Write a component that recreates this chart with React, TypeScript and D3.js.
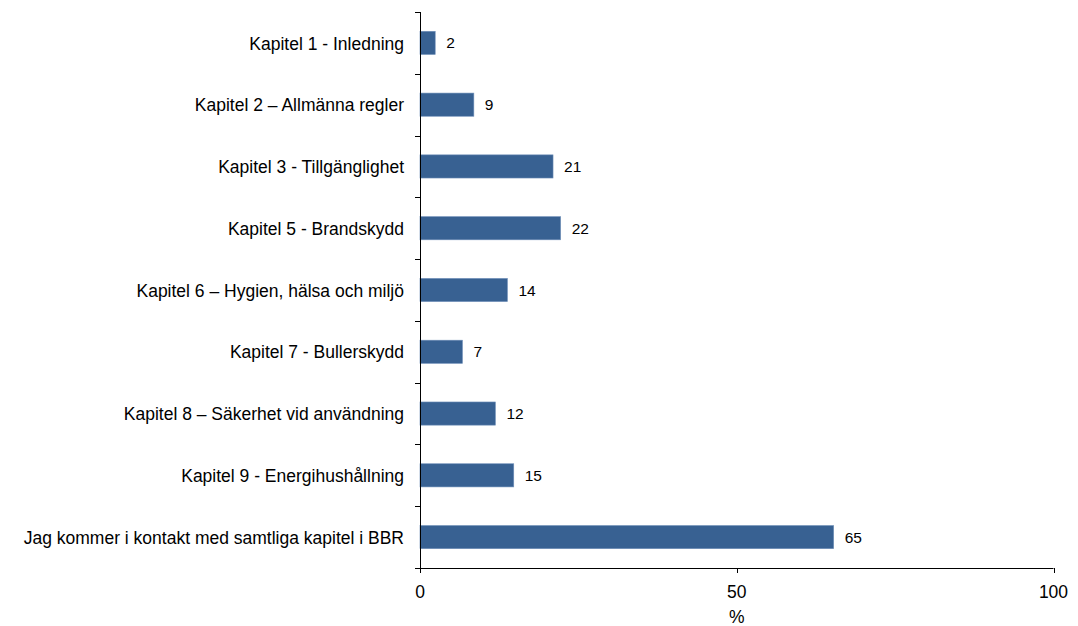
import React from "react";
import * as d3 from "d3";

const categories = [
  "Kapitel 1 - Inledning",
  "Kapitel 2 – Allmänna regler",
  "Kapitel 3 - Tillgänglighet",
  "Kapitel 5 - Brandskydd",
  "Kapitel 6 – Hygien, hälsa och miljö",
  "Kapitel 7 - Bullerskydd",
  "Kapitel 8 – Säkerhet vid användning",
  "Kapitel 9 - Energihushållning",
  "Jag kommer i kontakt med samtliga kapitel i BBR",
];
const values = [2.4, 8.5, 21.0, 22.2, 13.8, 6.7, 11.9, 14.8, 65.3];
const valueLabels = ["2", "9", "21", "22", "14", "7", "12", "15", "65"];
const xTicks = [0, 50, 100];
const xTitle = "%";

const W = 1078;
const H = 626;
const FONT = "'Liberation Sans', Arial, sans-serif";

export default function App() {
  const x = d3.scaleLinear().domain([0, 100]).range([420, 1053.5]);
  const y = d3
    .scaleBand<string>()
    .domain(categories)
    .range([12, 568])
    .paddingInner(0.625)
    .paddingOuter(0.3125);
  const step = y.step();
  const top = 12;
  const bottom = 568;
  const boundaries = d3.range(categories.length + 1).map((i) => top + i * step);

  return (
    <svg
      width={W}
      height={H}
      style={{ position: "absolute", left: 0, top: 0, background: "#fff" }}
    >
      {categories.map((c, i) => (
        <rect
          key={c}
          x={x(0)}
          y={y(c)!}
          width={x(values[i]) - x(0)}
          height={y.bandwidth()}
          fill="#386192"
          stroke="#6f8fb8"
          strokeWidth={0.6}
        />
      ))}
      {categories.map((c, i) => (
        <text
          key={c + "v"}
          x={x(values[i]) + 11}
          y={y(c)! + y.bandwidth() / 2}
          dy="0.36em"
          fontFamily={FONT}
          fontSize={15.5}
          fill="#000"
        >
          {valueLabels[i]}
        </text>
      ))}
      <line x1={420.5} x2={420.5} y1={top} y2={bottom} stroke="#000" strokeWidth={1} />
      {boundaries.map((b, i) => (
        <line
          key={"yt" + i}
          x1={415}
          x2={420.5}
          y1={Math.round(b) + 0.5}
          y2={Math.round(b) + 0.5}
          stroke="#000"
        />
      ))}
      {categories.map((c) => (
        <text
          key={c + "l"}
          x={404}
          y={y(c)! + y.bandwidth() / 2}
          dy="0.38em"
          textAnchor="end"
          fontFamily={FONT}
          fontSize={17.5}
          fill="#000"
        >
          {c}
        </text>
      ))}
      <line x1={420} x2={x(100)} y1={568.5} y2={568.5} stroke="#000" />
      {xTicks.map((t) => (
        <g key={"xt" + t}>
          <line
            x1={Math.round(x(t)) + 0.5}
            x2={Math.round(x(t)) + 0.5}
            y1={568}
            y2={573}
            stroke="#000"
          />
          <text
            x={x(t)}
            y={598}
            textAnchor="middle"
            fontFamily={FONT}
            fontSize={17.5}
            fill="#000"
          >
            {t}
          </text>
        </g>
      ))}
      <text
        x={x(50)}
        y={623}
        textAnchor="middle"
        fontFamily={FONT}
        fontSize={17.5}
        fill="#000"
      >
        {xTitle}
      </text>
    </svg>
  );
}
